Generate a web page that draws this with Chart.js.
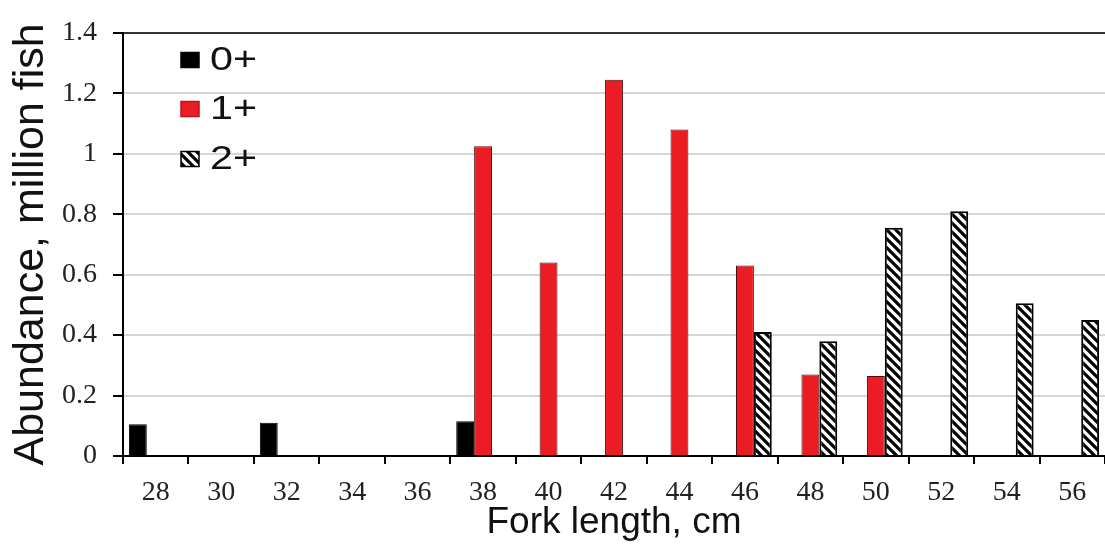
<!DOCTYPE html>
<html>
<head>
<meta charset="utf-8">
<script src="https://cdn.jsdelivr.net/npm/chart.js@4/dist/chart.umd.min.js"></script>
<style>
  html, body { margin: 0; padding: 0; background: #fff; }
  #wrap { width: 1105px; height: 546px; position: relative; }
</style>
</head>
<body>
<div id="wrap"><canvas id="chart" width="1105" height="546"></canvas></div>
<script>
// Fork length classes, cm
const forkLengths = ['28', '30', '32', '34', '36', '38', '40', '42', '44', '46', '48', '50', '52', '54', '56'];

// Abundance by age group, million fish
const age0 = [0.105, null, 0.11, null, null, 0.115, null, null, null, null, null, null, null, null, null];
const age1 = [null, null, null, null, null, 1.025, 0.64, 1.245, 1.08, 0.63, 0.27, 0.265, null, null, null];
const age2 = [null, null, null, null, null, null, null, null, null, 0.41, 0.38, 0.755, 0.81, 0.505, 0.45];

const seriesLabels = ['0+', '1+', '2+'];
const yTickLabels = ['0', '0.2', '0.4', '0.6', '0.8', '1', '1.2', '1.4'];

// Diagonal hatch fill for the 2+ group
function makeHatch() {
  const s = 9;
  const c = document.createElement('canvas');
  c.width = s; c.height = s;
  const g = c.getContext('2d');
  g.fillStyle = '#fff';
  g.fillRect(0, 0, s, s);
  g.strokeStyle = '#000';
  g.lineWidth = 3.2;
  g.beginPath();
  g.moveTo(-2, -2); g.lineTo(s + 2, s + 2);
  g.moveTo(-2, s - 2); g.lineTo(2, s + 2);
  g.moveTo(s - 2, -2); g.lineTo(s + 2, 2);
  g.stroke();
  return g.createPattern(c, 'repeat');
}
const hatch = makeHatch();

// Legend drawn inside the plot area, upper left
const insideLegend = {
  id: 'insideLegend',
  afterDraw(chart) {
    const ctx = chart.ctx;
    const rows = [60, 109, 159];
    ctx.save();
    chart.data.datasets.forEach((ds, i) => {
      const y = rows[i];
      ctx.fillStyle = ds.backgroundColor;
      ctx.fillRect(181, y - 7.5, 18, 15);
      ctx.lineWidth = 1.5;
      ctx.strokeStyle = i === 1 ? '#c0101a' : '#000';
      ctx.strokeRect(181, y - 7.5, 18, 15);
      ctx.save();
      ctx.translate(210, y + 1);
      ctx.scale(1.25, 1);
      ctx.fillStyle = '#111';
      ctx.font = '33px "Liberation Sans", Arial, sans-serif';
      ctx.textBaseline = 'middle';
      ctx.textAlign = 'left';
      ctx.fillText(ds.label, 0, 0);
      ctx.restore();
    });
    ctx.restore();
  }
};

new Chart(document.getElementById('chart'), {
  type: 'bar',
  data: {
    labels: forkLengths,
    datasets: [
      { label: seriesLabels[0], data: age0, backgroundColor: '#000', borderColor: '#000', borderWidth: 1 },
      { label: seriesLabels[1], data: age1, backgroundColor: '#ec1c24', borderColor: '#4a0c0c', borderWidth: 1 },
      { label: seriesLabels[2], data: age2, backgroundColor: hatch, borderColor: '#000', borderWidth: 2 }
    ]
  },
  options: {
    responsive: false,
    animation: false,
    devicePixelRatio: 1,
    layout: { padding: { top: 20, right: 0, left: 0, bottom: 0 } },
    datasets: { bar: { categoryPercentage: 0.82, barPercentage: 1.0 } },
    plugins: { legend: { display: false }, tooltip: { enabled: false } },
    scales: {
      x: {
        afterFit(scale) { scale.height = 90; },
        grid: { offset: true, drawOnChartArea: false, drawTicks: true, tickLength: 8, color: '#000', lineWidth: 2 },
        border: { display: true, color: '#000', width: 2 },
        ticks: {
          padding: 12,
          color: '#222',
          maxRotation: 0,
          autoSkip: false,
          font: { family: '"Liberation Serif", "Times New Roman", serif', size: 28 }
        },
        title: {
          display: true,
          text: 'Fork length, cm',
          color: '#111',
          padding: { top: 0, bottom: 1 },
          font: { family: '"Liberation Sans", Arial, sans-serif', size: 37 }
        }
      },
      y: {
        min: 0,
        max: 1.4,
        afterFit(scale) { scale.width = 123; },
        grid: {
          drawTicks: true,
          tickLength: 10,
          tickColor: '#000',
          color: (c) => (c.tick && c.tick.value >= 1.39 ? '#333' : '#d6d6d6'),
          lineWidth: 2
        },
        border: { display: true, color: '#000', width: 2 },
        ticks: {
          stepSize: 0.2,
          padding: 16,
          color: '#222',
          callback: (v, i) => yTickLabels[i],
          font: { family: '"Liberation Serif", "Times New Roman", serif', size: 28 }
        },
        title: {
          display: true,
          text: 'Abundance, million fish',
          color: '#111',
          padding: { top: 5, bottom: 0 },
          font: { family: '"Liberation Sans", Arial, sans-serif', size: 43 }
        }
      }
    }
  },
  plugins: [insideLegend]
});
</script>
</body>
</html>
